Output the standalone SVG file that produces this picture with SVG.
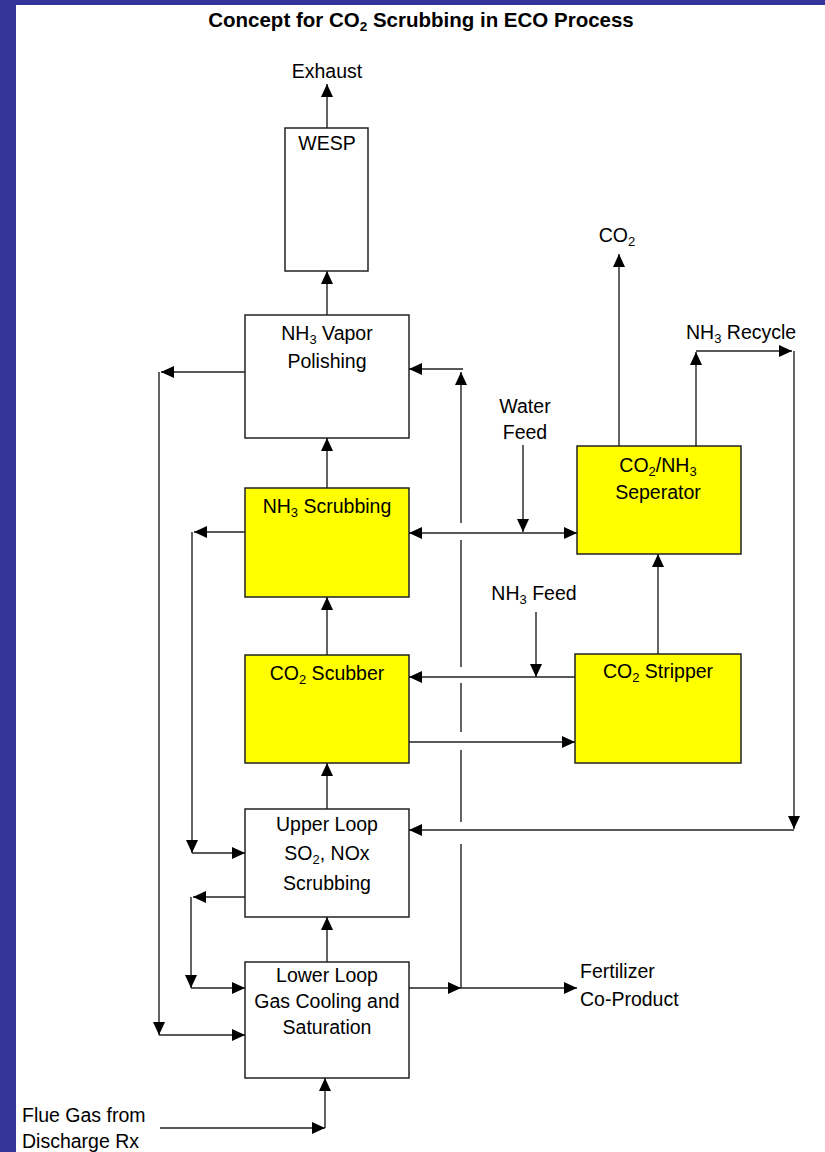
<svg xmlns="http://www.w3.org/2000/svg" width="825" height="1152" viewBox="0 0 825 1152">
<style>
.t{font-family:"Liberation Sans",Arial,sans-serif;font-size:19.5px;fill:#000}
.m{text-anchor:middle}
.ttl{font-family:"Liberation Sans",Arial,sans-serif;font-size:20.5px;font-weight:bold;fill:#000;text-anchor:middle}
.box{fill:#fff;stroke:#222;stroke-width:1.5}
.y{fill:#ffff00;stroke:#222;stroke-width:1.5}
.c path{fill:none;stroke:#222;stroke-width:1.4}
.a{marker-end:url(#ah)}
</style>
<defs>
<marker id="ah" markerUnits="userSpaceOnUse" markerWidth="13" markerHeight="12" refX="13" refY="6" orient="auto-start-reverse">
<path d="M0,0 L13,6 L0,12 z" fill="#000"/>
</marker>
</defs>
<rect x="0" y="0" width="825" height="1152" fill="#fff"/>
<rect x="0" y="0" width="825" height="5" fill="#333399"/>
<rect x="0" y="0" width="16" height="1152" fill="#333399"/>
<text class="ttl" x="421" y="27">Concept for CO<tspan font-size="13.5" dy="4">2</tspan><tspan dy="-4"> Scrubbing in ECO Process</tspan></text>

<g id="wesp"><rect class="box" x="285" y="128" width="83" height="143"/><text class="t m" x="327" y="150">WESP</text></g>
<g id="vapor"><rect class="box" x="245" y="315" width="164" height="123"/><text class="t m" x="327" y="340">NH<tspan font-size="13" dy="4">3</tspan><tspan dy="-4"> Vapor</tspan></text><text class="t m" x="327" y="368">Polishing</text></g>
<g id="nh3scrub"><rect class="y" x="245" y="488" width="164" height="109"/><text class="t m" x="327" y="513">NH<tspan font-size="13" dy="4">3</tspan><tspan dy="-4"> Scrubbing</tspan></text></g>
<g id="co2scub"><rect class="y" x="245" y="655" width="164" height="108"/><text class="t m" x="327" y="680">CO<tspan font-size="13" dy="4">2</tspan><tspan dy="-4"> Scubber</tspan></text></g>
<g id="upper"><rect class="box" x="245" y="809" width="164" height="108"/><text class="t m" x="327" y="831">Upper Loop</text><text class="t m" x="327" y="860">SO<tspan font-size="13" dy="4">2</tspan><tspan dy="-4">, NOx</tspan></text><text class="t m" x="327" y="890">Scrubbing</text></g>
<g id="lower"><rect class="box" x="245" y="962" width="164" height="116"/><text class="t m" x="327" y="982">Lower Loop</text><text class="t m" x="327" y="1008">Gas Cooling and</text><text class="t m" x="327" y="1034">Saturation</text></g>
<g id="separator"><rect class="y" x="577" y="446" width="164" height="108"/><text class="t m" x="658" y="472">CO<tspan font-size="13" dy="4">2</tspan><tspan dy="-4">/NH</tspan><tspan font-size="13" dy="4">3</tspan></text><text class="t m" x="658" y="499">Seperator</text></g>
<g id="stripper"><rect class="y" x="575" y="654" width="166" height="109"/><text class="t m" x="658" y="678">CO<tspan font-size="13" dy="4">2</tspan><tspan dy="-4"> Stripper</tspan></text></g>

<g id="labels">
<text class="t m" x="327" y="78">Exhaust</text>
<text class="t m" x="617" y="242">CO<tspan font-size="13" dy="4">2</tspan></text>
<text class="t" x="686" y="339">NH<tspan font-size="13" dy="4">3</tspan><tspan dy="-4"> Recycle</tspan></text>
<text class="t m" x="525" y="413">Water</text>
<text class="t m" x="525" y="439">Feed</text>
<text class="t m" x="534" y="600">NH<tspan font-size="13" dy="4">3</tspan><tspan dy="-4"> Feed</tspan></text>
<text class="t" x="580" y="978">Fertilizer</text>
<text class="t" x="580" y="1006">Co-Product</text>
<text class="t" x="22" y="1122">Flue Gas from</text>
<text class="t" x="22" y="1148">Discharge Rx</text>
</g>

<g id="connectors" class="c">
<path class="a" d="M327,128 V84"/>
<path class="a" d="M327,315 V271"/>
<path class="a" d="M327,488 V438"/>
<path class="a" d="M327,655 V597"/>
<path class="a" d="M327,809 V763"/>
<path class="a" d="M327,962 V917"/>
<path class="a" d="M160,1128 H325"/>
<path class="a" d="M325,1128 V1078"/>
<path class="a" d="M245,372 H161"/>
<path class="a" d="M159,372 V1035"/>
<path class="a" d="M159,1035 H245"/>
<path class="a" d="M245,532 H194"/>
<path class="a" d="M192,532 V853"/>
<path class="a" d="M192,853 H245"/>
<path class="a" d="M245,897 H193"/>
<path class="a" d="M191,897 V988"/>
<path class="a" d="M191,988 H245"/>
<path class="a" d="M409,988 H461"/>
<path class="a" d="M461,988 H577"/>
<path d="M461,988 V844 M461,822 V750 M461,732 V683 M461,667 V540"/>
<path class="a" d="M461,523 V372"/>
<path class="a" d="M463,369 H409"/>
<path class="a" d="M523,445 V532"/>
<path class="a" d="M409,533 H577" marker-start="url(#ah)"/>
<path class="a" d="M619,446 V254"/>
<path class="a" d="M696,446 V352"/>
<path class="a" d="M696,351 H792"/>
<path class="a" d="M794,351 V829"/>
<path class="a" d="M794,830 H409"/>
<path class="a" d="M658,654 V554"/>
<path class="a" d="M575,677 H409"/>
<path class="a" d="M536,612 V677"/>
<path class="a" d="M409,742 H575"/>
</g>
</svg>
